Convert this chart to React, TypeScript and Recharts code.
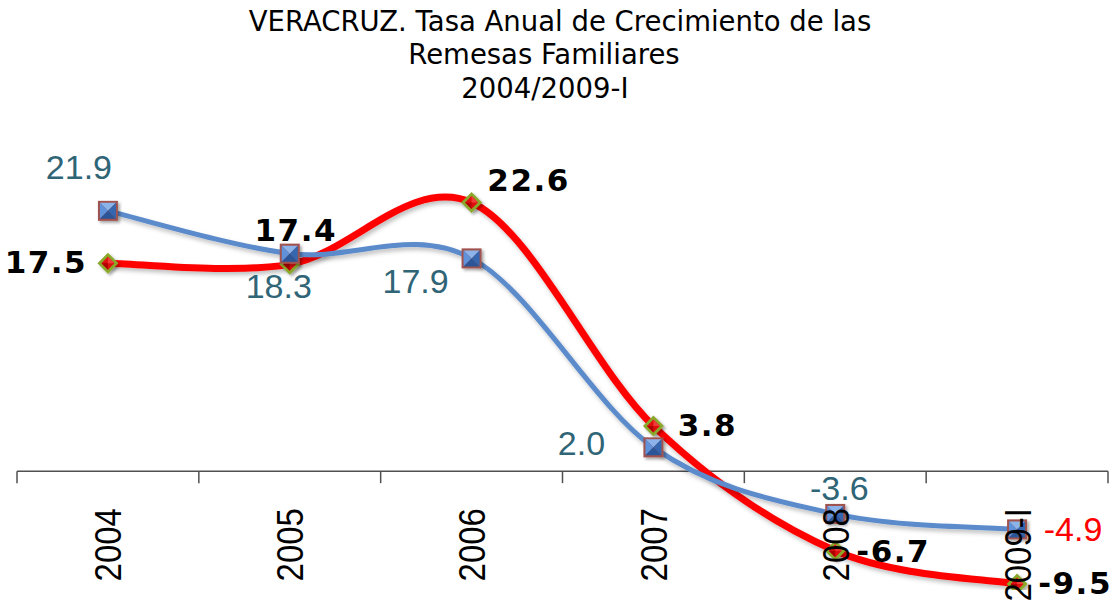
import React from 'react';
import { LineChart, Line, XAxis, YAxis, ReferenceLine, LabelList } from 'recharts';

// ---- data ----
const categories = ['2004', '2005', '2006', '2007', '2008', '2009-I'];
const nacional = [21.9, 18.3, 17.9, 2.0, -3.6, -4.9];
const veracruz = [17.5, 17.4, 22.6, 3.8, -6.7, -9.5];
const titleLines = ['VERACRUZ. Tasa Anual de Crecimiento de las', 'Remesas Familiares', '2004/2009-I'];

const data = categories.map((c, i) => ({ cat: c, nacional: nacional[i], veracruz: veracruz[i] }));

// ---- layout / style constants ----
const W = 1116;
const H = 604;
const Y_MIN = -10;
const Y_MAX = 25;
const M_TOP = 174;
const X_AXIS_H = 14;
const PLOT_H = H - M_TOP - X_AXIS_H;
const ZERO_Y = M_TOP + (PLOT_H * Y_MAX) / (Y_MAX - Y_MIN);
const M_LEFT = 17;
const M_RIGHT = 8;
const HALF_BAND = (W - M_LEFT - M_RIGHT) / (categories.length * 2);

const BLUE = '#5B8BCC';
const RED = '#FF0000';

const titleCenters = [560, 544, 545];
const titleTops = [5, 38.4, 71.8];

// label placements (dx, dy relative to point; dy to baseline)
const blueLabelPos = [[-29, -32], [-11, 44], [-56, 35], [-72, 8], [4, -14], [56, 12]];
const redLabelPos = [[-62, 10], [6, -23], [57, -12], [54, 10], [58, 11], [58, 10]];
const blueLabelColors = ['#2F6576', '#2F6576', '#2F6576', '#2F6576', '#2F6576', '#FF0000'];

// Catmull-Rom like smoothing (Excel-style smoothed line)
function smoothCurve(context: any) {
  let pts: number[][] = [];
  return {
    areaStart() {},
    areaEnd() {},
    lineStart() {
      pts = [];
    },
    point(x: number, y: number) {
      pts.push([+x, +y]);
    },
    lineEnd() {
      const n = pts.length;
      if (!n) return;
      context.moveTo(pts[0][0], pts[0][1]);
      for (let i = 0; i < n - 1; i++) {
        const p0 = pts[i === 0 ? 0 : i - 1];
        const p1 = pts[i];
        const p2 = pts[i + 1];
        const p3 = pts[i + 2 < n ? i + 2 : n - 1];
        context.bezierCurveTo(
          p1[0] + (p2[0] - p0[0]) / 6,
          p1[1] + (p2[1] - p0[1]) / 6,
          p2[0] - (p3[0] - p1[0]) / 6,
          p2[1] - (p3[1] - p1[1]) / 6,
          p2[0],
          p2[1]
        );
      }
    },
  };
}

function SquareDot(props: any) {
  const { cx, cy } = props;
  if (cx == null || cy == null) return null;
  const o = 10;
  const i = 8;
  return (
    <g filter="url(#markShadow)">
      <rect x={cx - o} y={cy - o} width={o * 2} height={o * 2} fill="#A0524F" />
      <polygon points={`${cx - i},${cy - i} ${cx + i},${cy - i} ${cx},${cy}`} fill="#8CB4EA" />
      <polygon points={`${cx - i},${cy - i} ${cx - i},${cy + i} ${cx},${cy}`} fill="#5E92DA" />
      <polygon points={`${cx + i},${cy - i} ${cx + i},${cy + i} ${cx},${cy}`} fill="#3566B0" />
      <polygon points={`${cx - i},${cy + i} ${cx + i},${cy + i} ${cx},${cy}`} fill="#2A5598" />
    </g>
  );
}

function DiamondDot(props: any) {
  const { cx, cy } = props;
  if (cx == null || cy == null) return null;
  const o = 10.5;
  const i = 6.5;
  return (
    <g filter="url(#markShadow)">
      <polygon points={`${cx},${cy - o} ${cx + o},${cy} ${cx},${cy + o} ${cx - o},${cy}`} fill="#8AA82C" />
      <polygon points={`${cx},${cy - i} ${cx + i},${cy} ${cx},${cy + i} ${cx - i},${cy}`} fill="#E01010" />
      <polygon points={`${cx},${cy - i} ${cx + i},${cy} ${cx},${cy}`} fill="#F03A3A" />
      <polygon points={`${cx},${cy + i} ${cx - i},${cy} ${cx},${cy}`} fill="#B00000" />
    </g>
  );
}

function BlueLabel(props: any) {
  const { x, y, value, index } = props;
  const [dx, dy] = blueLabelPos[index];
  return (
    <text x={x + dx} y={y + dy} textAnchor="middle" fontFamily="'Liberation Sans', Arial, sans-serif" fontSize={34} fill={blueLabelColors[index]}>
      {Number(value).toFixed(1)}
    </text>
  );
}

function RedLabel(props: any) {
  const { x, y, value, index } = props;
  const [dx, dy] = redLabelPos[index];
  return (
    <text x={x + dx} y={y + dy} textAnchor="middle" fontFamily="'DejaVu Sans', sans-serif" fontWeight="bold" fontSize={31} letterSpacing={1.5} fill="#000">
      {Number(value).toFixed(1)}
    </text>
  );
}

function CategoryTick(props: any) {
  const { x, payload, index } = props;
  const last = index === categories.length - 1;
  return (
    <g>
      <line x1={x - HALF_BAND} x2={x - HALF_BAND} y1={ZERO_Y} y2={ZERO_Y + 12} stroke="#505050" strokeWidth={1.5} />
      {last && <line x1={x + HALF_BAND} x2={x + HALF_BAND} y1={ZERO_Y} y2={ZERO_Y + 12} stroke="#505050" strokeWidth={1.5} />}
      <text
        transform={`translate(${x + 13.5},${ZERO_Y + 37}) rotate(-90) scale(0.89,1)`}
        textAnchor="end"
        fontFamily="'Liberation Sans', Arial, sans-serif"
        fontSize={37}
        fill="#000"
      >
        {payload.value}
      </text>
    </g>
  );
}

export default function App() {
  return (
    <div style={{ position: 'absolute', left: 0, top: 0, width: W, height: H, background: '#fff', overflow: 'hidden' }}>
      <svg width={0} height={0} style={{ position: 'absolute' }}>
        <defs>
          <filter id="lineShadow" x="-10%" y="-30%" width="120%" height="160%">
            <feDropShadow dx={2} dy={3} stdDeviation={2} floodColor="#000" floodOpacity={0.25} />
          </filter>
          <filter id="markShadow" x="-50%" y="-50%" width="200%" height="200%">
            <feDropShadow dx={2} dy={2} stdDeviation={1.5} floodColor="#000" floodOpacity={0.35} />
          </filter>
        </defs>
      </svg>
      {titleLines.map((t, i) => (
        <div
          key={i}
          style={{
            position: 'absolute',
            left: titleCenters[i] - 500,
            top: titleTops[i],
            width: 1000,
            textAlign: 'center',
            fontFamily: "'DejaVu Sans', sans-serif",
            fontSize: 27.5,
            lineHeight: '33px',
            color: '#000',
            whiteSpace: 'nowrap',
          }}
        >
          {t}
        </div>
      ))}
      <div style={{ position: 'absolute', left: 0, top: 0 }}>
        <LineChart width={W} height={H} data={data} margin={{ top: M_TOP, right: M_RIGHT, bottom: 0, left: M_LEFT }}>
          <YAxis hide domain={[Y_MIN, Y_MAX]} type="number" allowDataOverflow />
          <ReferenceLine y={0} stroke="#505050" strokeWidth={1.5} />
          <Line
            dataKey="veracruz"
            type={smoothCurve as any}
            stroke={RED}
            strokeWidth={7}
            dot={<DiamondDot />}
            activeDot={false}
            isAnimationActive={false}
            filter="url(#lineShadow)"
          >
            <LabelList dataKey="veracruz" content={<RedLabel />} />
          </Line>
          <Line
            dataKey="nacional"
            type={smoothCurve as any}
            stroke={BLUE}
            strokeWidth={5}
            dot={<SquareDot />}
            activeDot={false}
            isAnimationActive={false}
            filter="url(#lineShadow)"
          >
            <LabelList dataKey="nacional" content={<BlueLabel />} />
          </Line>
          <XAxis
            dataKey="cat"
            height={X_AXIS_H}
            axisLine={false}
            tickLine={false}
            tickSize={0}
            tickMargin={0}
            interval={0}
            padding={{ left: HALF_BAND, right: HALF_BAND }}
            tick={<CategoryTick />}
          />
        </LineChart>
      </div>
    </div>
  );
}
